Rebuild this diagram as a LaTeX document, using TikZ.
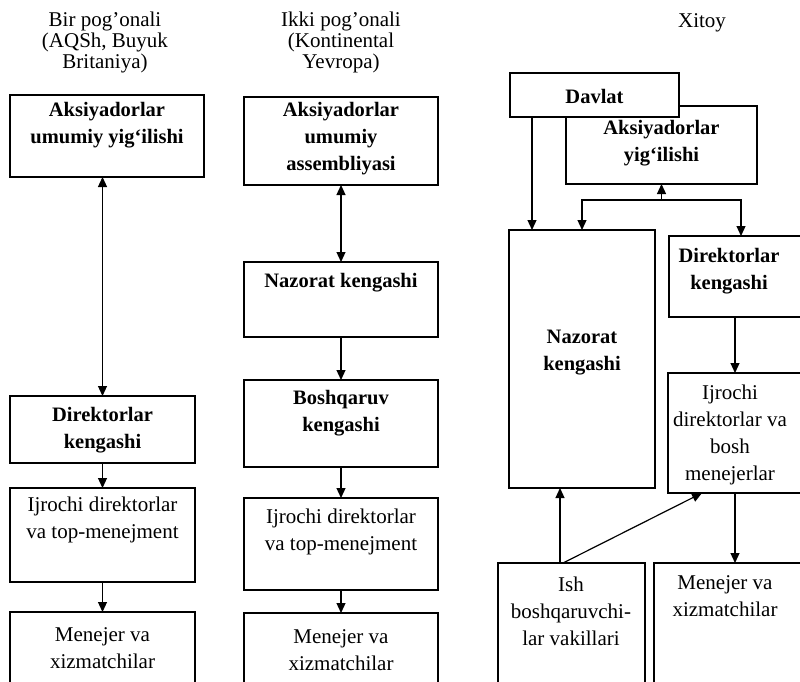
\documentclass[tikz,border=0pt]{standalone}
\usepackage{fontspec}
\setmainfont{Liberation Serif}
\usetikzlibrary{arrows.meta,calc}
\begin{document}
\begin{tikzpicture}[x=1pt,y=-1pt,
  box/.style={draw,line width=1.3pt,rectangle,inner sep=0pt,outer sep=0pt},
  wbox/.style={box,fill=white},
  txt/.style={align=center,font=\fontsize{21}{27}\selectfont,inner sep=0pt},
  ttxt/.style={align=center,font=\fontsize{21}{21}\selectfont,inner sep=0pt},
  btxt/.style={txt,font=\fontsize{20.5}{27}\selectfont\bfseries},
  arr/.style={line width=1.2pt,-{Triangle[length=10pt,width=9pt]}},
  darr/.style={line width=1.2pt,{Triangle[length=10pt,width=9pt]}-{Triangle[length=10pt,width=9pt]}}]
\fill[white] (0,0) rectangle (800,682);
\begin{scope}
\clip (0,0) rectangle (800,682);
% column 1
\node[box,minimum width=194pt,minimum height=82pt] (A1) at (107,136) {};
\node[box,minimum width=185pt,minimum height=67pt] (D1) at (102.5,429.5) {};
\node[box,minimum width=185pt,minimum height=94pt] (I1) at (102.5,535) {};
\node[box,minimum width=185pt,minimum height=88pt] (M1) at (102.5,656) {};
% column 2
\node[box,minimum width=194pt,minimum height=88pt] (A2) at (341,141) {};
\node[box,minimum width=194pt,minimum height=75pt] (N2) at (341,299.5) {};
\node[box,minimum width=194pt,minimum height=87pt] (B2) at (341,423.5) {};
\node[box,minimum width=194pt,minimum height=92pt] (I2) at (341,544) {};
\node[box,minimum width=194pt,minimum height=87pt] (M2) at (341,656.5) {};
% column 3
\node[box,minimum width=191pt,minimum height=78pt] (Aks) at (661.5,145) {};
\node[wbox,minimum width=169pt,minimum height=44pt] (Dav) at (594.5,95) {};
\node[box,minimum width=146pt,minimum height=258pt] (NK3) at (582,359) {};
\node[box,minimum width=161pt,minimum height=81pt] (DK3) at (749.5,276.5) {};
\node[box,minimum width=162pt,minimum height=120pt] (IJ3) at (749,433) {};
\node[box,minimum width=147pt,minimum height=137pt] (Ish) at (571.5,631.5) {};
\node[box,minimum width=176pt,minimum height=137pt] (MX3) at (742,631.5) {};
\end{scope}
% titles
\node[ttxt] (t1) at (105,42) {Bir pog’onali\\(AQSh, Buyuk\\Britaniya)};
\node[ttxt] (t2) at (341,42) {Ikki pog’onali\\(Kontinental\\Yevropa)};
\node[ttxt] (t3) at (702,23) {Xitoy};
% texts column 1
\node[btxt] (a1t) at (107,125) {Aksiyadorlar\\umumiy yig‘ilishi};
\node[btxt] (d1t) at (102.5,430) {Direktorlar\\kengashi};
\node[txt] (i1t) at (102.5,520) {Ijrochi direktorlar\\va top-menejment};
\node[txt] (m1t) at (102.5,648) {Menejer va\\xizmatchilar};
% texts column 2
\node[btxt] (a2t) at (341,139) {Aksiyadorlar\\umumiy\\assembliyasi};
\node[btxt] (n2t) at (341,283) {Nazorat kengashi};
\node[btxt] (b2t) at (341,413) {Boshqaruv\\kengashi};
\node[txt] (i2t) at (341,532) {Ijrochi direktorlar\\va top-menejment};
\node[txt] (m2t) at (341,650) {Menejer va\\xizmatchilar};
% texts column 3
\node[btxt] (davt) at (594.5,96) {Davlat};
\node[btxt] (akst) at (661.5,143) {Aksiyadorlar\\yig‘ilishi};
\node[btxt] (nk3t) at (582,353) {Nazorat\\kengashi};
\node[btxt] (dk3t) at (729,271) {Direktorlar\\kengashi};
\node[txt] (ij3t) at (730,435) {Ijrochi\\direktorlar va\\bosh\\menejerlar};
\node[txt] (isht) at (571,611) {Ish\\boshqaruvchi-\\lar vakillari};
\node[txt] (mx3t) at (725,596) {Menejer va\\xizmatchilar};
% connectors column 1
\draw[darr] (D1.north |- A1.south) -- (D1.north);
\draw[arr] (D1) -- (I1);
\draw[arr] (I1) -- (M1);
% connectors column 2
\draw[darr] (A2) -- (N2);
\draw[arr] (N2) -- (B2);
\draw[arr] (B2) -- (I2);
\draw[arr] (I2) -- (M2);
% connectors column 3
\coordinate (dvx) at (532,0);
\coordinate (bus) at ([yshift=-16pt]Aks.south);
\coordinate (dkx) at (741,0);
\coordinate (rx) at (735,0);
\coordinate (lx) at (560,0);
\coordinate (dgx) at (702,0);
\draw[arr] (Dav.south -| dvx) -- (NK3.north -| dvx);
\draw[arr] (bus) -- (Aks.south);
\draw[arr] (bus) -| (NK3.north);
\draw[arr] (bus) -| (DK3.north -| dkx);
\draw[arr] (DK3.south -| rx) -- (IJ3.north -| rx);
\draw[arr] (IJ3.south -| rx) -- (MX3.north -| rx);
\draw[arr] (Ish.north -| lx) -- (NK3.south -| lx);
\draw[arr] ([xshift=3pt]Ish.north -| lx) -- (IJ3.south -| dgx);
\pgfresetboundingbox
\useasboundingbox (0,0) rectangle (800,682);
\end{tikzpicture}
\end{document}
